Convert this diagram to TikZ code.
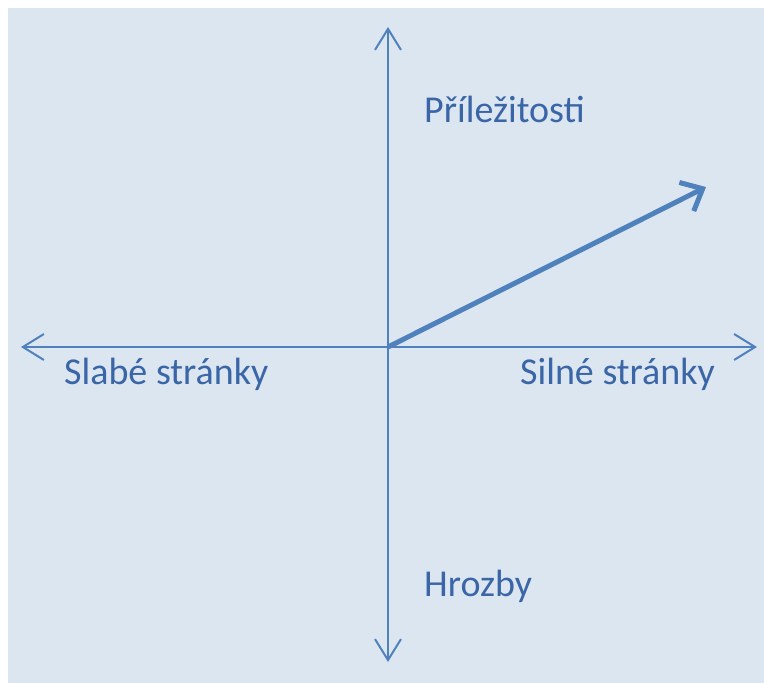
\documentclass[tikz,border=0pt]{standalone}
\usepackage{fontspec}
\setmainfont{Carlito}
\usetikzlibrary{arrows.meta}
\definecolor{axisblue}{HTML}{4F81BD}
\definecolor{labelblue}{HTML}{3A66A7}
\definecolor{panel}{HTML}{DCE6F1}
\tikzset{
  axis/.style={draw=axisblue, line width=2pt, -{Straight Barb[length=21pt,width=26pt,line width=2pt]}},
  vector/.style={draw=axisblue, line width=5pt, -{Straight Barb[length=18pt,width=32pt,line width=5pt]}},
  lbl/.style={text=labelblue, font=\fontsize{38}{44}\selectfont, inner sep=0pt, anchor=base west},
}
\begin{document}
\begin{tikzpicture}[x=1pt,y=-1pt]
  \useasboundingbox (0,0) rectangle (764,683);
  \fill[panel] (8,8) rectangle (770,690);
  % axes through the origin
  \coordinate (o) at (388,347);
  \coordinate (top) at (388,27);
  \coordinate (bottom) at (388,662);
  \coordinate (left) at (21,347);
  \coordinate (right) at (757,347);
  \coordinate (tip) at (706,187);
  \draw[axis] (o) -- (top);
  \draw[axis] (o) -- (bottom);
  \draw[axis] (o) -- (left);
  \draw[axis] (o) -- (right);
  \draw[vector] (o) -- (tip);
  % quadrant labels
  \node[lbl] (opp) at (424,122) {Příležitosti};
  \node[lbl] (weak) at (64,384) {Slabé stránky};
  \node[lbl] (strong) at (520,384) {Silné stránky};
  \node[lbl] (threat) at (424,596) {Hrozby};
\end{tikzpicture}
\end{document}
